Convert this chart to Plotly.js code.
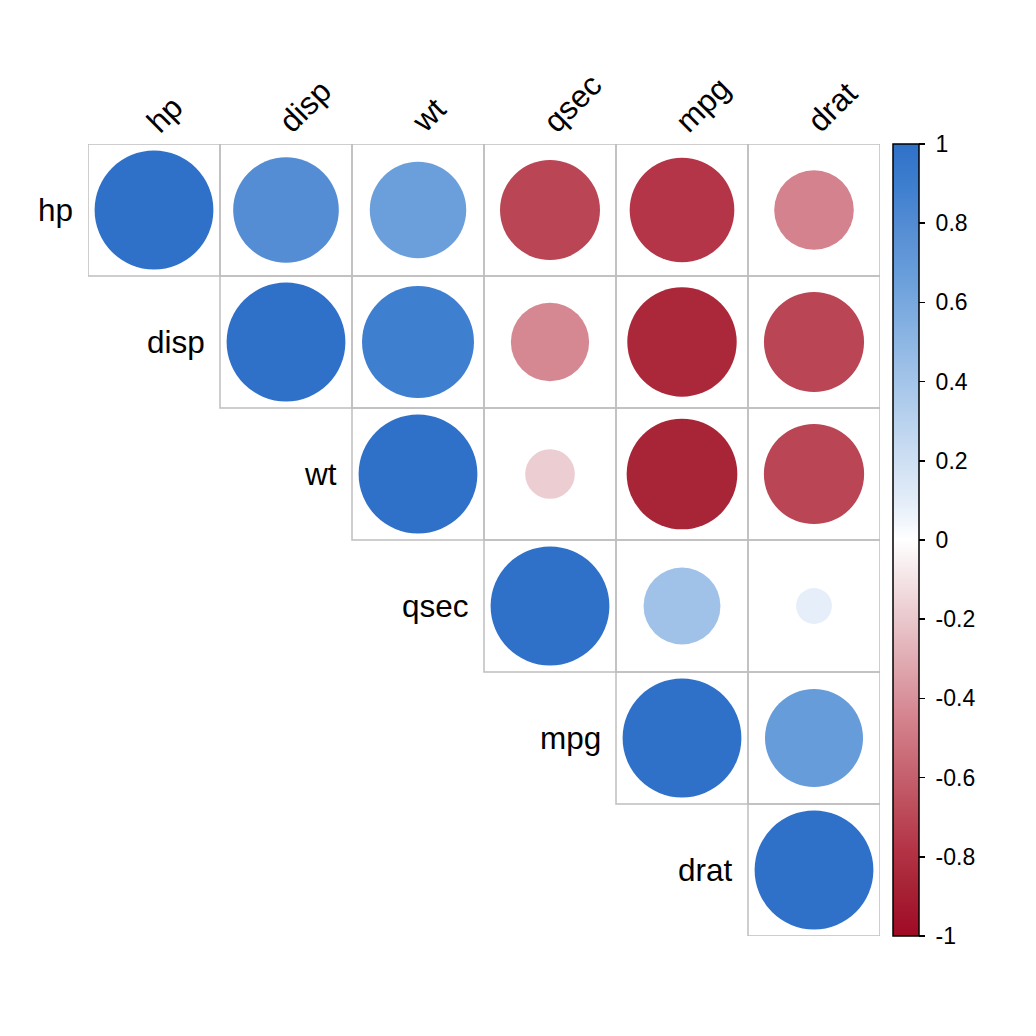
<!DOCTYPE html>
<html>
<head>
<meta charset="utf-8">
<script src="https://cdn.plot.ly/plotly-3.0.1.min.js"></script>
<style>html,body{margin:0;padding:0;background:#fff;}#chart{width:1036px;height:1036px;}</style>
</head>
<body>
<div id="chart"></div>
<script>
// Variables (rows/columns, in display order)
const variables = ['hp', 'disp', 'wt', 'qsec', 'mpg', 'drat'];

// Correlation matrix rows (mtcars)
const r_hp   = [1.000, 0.791, 0.659, -0.708, -0.776, -0.449];
const r_disp = [0.791, 1.000, 0.888, -0.434, -0.848, -0.710];
const r_wt   = [0.659, 0.888, 1.000, -0.175, -0.868, -0.712];
const r_qsec = [-0.708, -0.434, -0.175, 1.000, 0.419, 0.091];
const r_mpg  = [-0.776, -0.848, -0.868, 0.419, 1.000, 0.681];
const r_drat = [-0.449, -0.710, -0.712, 0.091, 0.681, 1.000];

// Colour bar ticks
const cbTickVals = [-1, -0.8, -0.6, -0.4, -0.2, 0, 0.2, 0.4, 0.6, 0.8, 1];
const cbTickText = ['-1', '-0.8', '-0.6', '-0.4', '-0.2', '0', '0.2', '0.4', '0.6', '0.8', '1'];

const corr = [r_hp, r_disp, r_wt, r_qsec, r_mpg, r_drat];
const n = variables.length;

// Layout geometry
const W = 1036, H = 1036;
const mL = 88, mT = 144, plotPx = 792;
const cellPx = plotPx / n;

const colorscale = [
  [0.000, '#A00A25'],
  [0.065, '#A82437'],
  [0.110, '#B43446'],
  [0.145, '#BA4554'],
  [0.275, '#D4838E'],
  [0.410, '#EBCDD1'],
  [0.500, '#FFFFFF'],
  [0.545, '#E5EEF9'],
  [0.710, '#A0C2E8'],
  [0.830, '#6A9FDB'],
  [0.895, '#558DD4'],
  [0.945, '#3F7FCF'],
  [1.000, '#2F71C8']
];

const xs = [], ys = [], vals = [], sizes = [];
const shapes = [];
for (let i = 0; i < n; i++) {
  for (let j = i; j < n; j++) {
    const v = corr[i][j];
    xs.push(j + 1);
    ys.push(i + 1);
    vals.push(v);
    sizes.push(0.9 * cellPx * Math.sqrt(Math.abs(v)));
    shapes.push({
      type: 'rect', xref: 'x', yref: 'y',
      x0: j + 0.5, x1: j + 1.5, y0: i + 0.5, y1: i + 1.5,
      line: {color: '#BEBEBE', width: 1.5},
      fillcolor: 'rgba(0,0,0,0)', layer: 'below'
    });
  }
}

const annotations = [];
const font = 'Liberation Sans, Arial, sans-serif';
const labelSize = 31.5;
for (let i = 0; i < n; i++) {
  // row label
  annotations.push({
    x: i + 0.5, y: i + 1, xref: 'x', yref: 'y',
    text: variables[i], showarrow: false,
    xanchor: 'right', yanchor: 'middle', xshift: -13,
    font: {family: font, size: labelSize, color: '#000'}
  });
  // column label (rotated)
  annotations.push({
    x: i + 1, y: 0.5, xref: 'x', yref: 'y',
    text: variables[i], showarrow: false, textangle: -45,
    xanchor: 'left', yanchor: 'bottom', xshift: -17, yshift: 2,
    font: {family: font, size: labelSize, color: '#000'}
  });
}

const trace = {
  type: 'scatter', mode: 'markers',
  x: xs, y: ys,
  hoverinfo: 'skip',
  marker: {
    size: sizes, sizemode: 'diameter',
    color: vals, cmin: -1, cmax: 1, colorscale: colorscale,
    line: {width: 0}, opacity: 1,
    showscale: true,
    colorbar: {
      x: (893 - mL) / plotPx, xanchor: 'left', xpad: 0,
      y: 0.5, yanchor: 'middle', ypad: 0,
      len: 1, lenmode: 'fraction',
      thickness: 26, thicknessmode: 'pixels',
      outlinewidth: 1.5, outlinecolor: '#000',
      ticks: 'outside', ticklen: 6, tickwidth: 1.5, tickcolor: '#000',
      tickvals: cbTickVals,
      ticktext: cbTickText.map(t => '\u2005' + t),
      tickfont: {family: font, size: 23, color: '#000'},
      bgcolor: 'rgba(0,0,0,0)', borderwidth: 0
    }
  }
};

const layout = {
  width: W, height: H,
  margin: {l: mL, t: mT, r: W - mL - plotPx, b: H - mT - plotPx, pad: 0},
  paper_bgcolor: '#fff', plot_bgcolor: '#fff',
  showlegend: false,
  xaxis: {range: [0.5, n + 0.5], visible: false, fixedrange: true},
  yaxis: {range: [n + 0.5, 0.5], visible: false, fixedrange: true},
  shapes: shapes,
  annotations: annotations,
  font: {family: font}
};

Plotly.newPlot('chart', [trace], layout, {displayModeBar: false, staticPlot: true});
</script>
</body>
</html>
